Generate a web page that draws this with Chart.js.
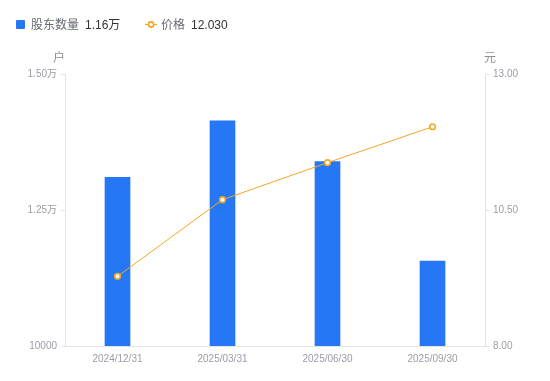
<!DOCTYPE html>
<html>
<head>
<meta charset="utf-8">
<script src="https://cdn.jsdelivr.net/npm/chart.js@4/dist/chart.umd.min.js"></script>
<style>
    html, body { margin: 0; padding: 0; background: #fff; }
    body { width: 550px; height: 381px; position: relative; overflow: hidden;
        font-family: "Liberation Sans", "Noto Sans CJK SC", sans-serif; }
    #wrap { position: absolute; left: 0; top: 0; width: 550px; height: 381px; }
    .legend { position: absolute; top: 17px; font-size: 12px; line-height: 16px; white-space: nowrap; }
    .legend .name { color: #666a75; }
    .legend .val { color: #333; margin-left: 6px; }
    .unit { position: absolute; top: 48px; font-size: 12px; color: #8c8f99; }
</style>
</head>
<body>
<div id="wrap"><canvas id="chart" width="550" height="381"></canvas></div>
<div class="legend" style="left:16px;">
    <span style="display:inline-block;width:9px;height:9px;background:#2677f5;border-radius:1px;margin-right:6px;vertical-align:0px;"></span><span class="name">股东数量</span><span class="val">1.16万</span>
</div>
<div class="legend" style="left:145px;">
    <svg width="12" height="9" style="margin-right:4px;vertical-align:0px;"><line x1="0" y1="4.5" x2="12" y2="4.5" stroke="#f5a623" stroke-width="1.2"/><circle cx="6" cy="4.5" r="2.6" fill="#fff" stroke="#f5a623" stroke-width="1.6"/></svg><span class="name">价格</span><span class="val">12.030</span>
</div>
<div class="unit" style="left:53px;">户</div>
<div class="unit" style="left:484px;">元</div>
<script>
    // chart data
    const categories = ["2024/12/31", "2025/03/31", "2025/06/30", "2025/09/30"];
    const holders = [13100, 14140, 13390, 11560];
    const prices = [9.28, 10.69, 11.37, 12.03];
    const leftTicks = [10000, 12500, 15000];
    const rightTicks = [8.00, 10.50, 13.00];

    const tickColor = "#9a9ca8";
    const lineColor = "#e3e4e8";

    function leftLabel(v) {
        if (v === 10000) return "10000";
        return (v / 10000).toFixed(2) + "万";
    }

    const ctx = document.getElementById("chart").getContext("2d");
    new Chart(ctx, {
        type: "bar",
        data: {
            labels: categories,
            datasets: [
                {
                    type: "line",
                    label: "价格",
                    data: prices,
                    yAxisID: "y1",
                    borderColor: "#f5a623",
                    borderWidth: 1,
                    pointRadius: 2.8,
                    pointBorderWidth: 1.6,
                    pointBackgroundColor: "#fff",
                    pointBorderColor: "#f5a623",
                    tension: 0,
                    order: 1
                },
                {
                    type: "bar",
                    label: "股东数量",
                    data: holders,
                    yAxisID: "y",
                    backgroundColor: "#2677f5",
                    barThickness: 25,
                    order: 2
                }
            ]
        },
        options: {
            responsive: false,
            animation: false,
            layout: { padding: { top: 74, left: 0, right: 0, bottom: 0 } },
            plugins: { legend: { display: false }, tooltip: { enabled: false } },
            scales: {
                x: {
                    offset: true,
                    grid: { display: false, drawTicks: false },
                    border: { display: true, color: lineColor },
                    ticks: { color: tickColor, font: { size: 10, family: "Liberation Sans" }, padding: 7, maxRotation: 0 },
                    afterFit(scale) { scale.height = 35; }
                },
                y: {
                    position: "left",
                    min: 10000,
                    max: 15000,
                    afterBuildTicks(scale) { scale.ticks = leftTicks.map(v => ({ value: v })); },
                    grid: { drawOnChartArea: false, tickLength: 4, color: lineColor },
                    border: { display: true, color: lineColor },
                    ticks: { color: tickColor, font: { size: 10, family: "Liberation Sans, Noto Sans CJK SC" }, padding: 4, callback: leftLabel },
                    afterFit(scale) { scale.width = 65; }
                },
                y1: {
                    position: "right",
                    min: 8,
                    max: 13,
                    afterBuildTicks(scale) { scale.ticks = rightTicks.map(v => ({ value: v })); },
                    grid: { drawOnChartArea: false, tickLength: 4, color: lineColor },
                    border: { display: true, color: lineColor },
                    ticks: { color: tickColor, font: { size: 10, family: "Liberation Sans" }, padding: 4, callback: v => v.toFixed(2) },
                    afterFit(scale) { scale.width = 65; }
                }
            }
        }
    });
</script>
</body>
</html>
